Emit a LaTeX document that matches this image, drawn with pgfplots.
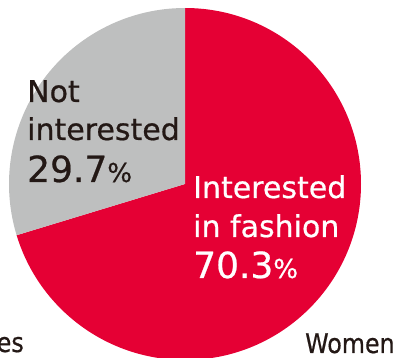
\documentclass[border=0pt]{standalone}
\usepackage{pgfplots}
\usepackage{pgfplotstable}
\pgfplotsset{compat=1.18}
\usepackage{fontspec}
\setmainfont[FakeBold=0.6]{DejaVu Sans}
\definecolor{piered}{HTML}{E50034}
\definecolor{piegray}{HTML}{BEBFBF}
\definecolor{txt}{HTML}{231815}
\pgfplotstableread{
label value
Interested 70.3
Not 29.7
}\piedata
\begin{document}
\begin{tikzpicture}
\useasboundingbox (0,0) rectangle (407bp,358bp);
\clip (0,0) rectangle (407bp,358bp);
\pgfplotstablegetelem{0}{value}\of\piedata \let\vA\pgfplotsretval
\pgfplotstablegetelem{1}{value}\of\piedata \let\vB\pgfplotsretval
\pgfmathsetmacro{\redend}{90-3.6*\vA}
\pgfmathsetmacro{\grayend}{90+3.6*\vB}
\begin{axis}[
  at={(0,0)}, anchor=origin,
  x=1bp, y=1bp,
  xmin=0, xmax=407, ymin=0, ymax=358,
  hide axis, clip=false,
]
\fill[piered] (axis cs:185,174) -- ([shift={(90:176bp)}]axis cs:185,174) arc[start angle=90, end angle=\redend, radius=176bp] -- cycle;
\fill[piegray] (axis cs:185,174) -- ([shift={(90:176bp)}]axis cs:185,174) arc[start angle=90, end angle=\grayend, radius=176bp] -- cycle;
\node[anchor=base west, inner sep=0, text=txt, font=\fontsize{30bp}{36bp}\selectfont] at (axis cs:27,256) {Not};
\node[anchor=base west, inner sep=0, text=txt, font=\fontsize{30bp}{36bp}\selectfont] at (axis cs:27,218) {interested};
\node[anchor=base west, inner sep=0, text=txt] at (axis cs:27,176) {\fontsize{36bp}{40bp}\selectfont \vB\fontsize{26bp}{30bp}\selectfont\%};
\node[anchor=base west, inner sep=0, text=white, font=\fontsize{30bp}{36bp}\selectfont] at (axis cs:193,160) {Interested};
\node[anchor=base west, inner sep=0, text=white, font=\fontsize{30bp}{36bp}\selectfont] at (axis cs:193,121) {in fashion};
\node[anchor=base west, inner sep=0, text=white] at (axis cs:193,80) {\fontsize{36bp}{40bp}\selectfont \vA\fontsize{26bp}{30bp}\selectfont\%};
\node[anchor=base west, inner sep=0, text=txt, font=\fontsize{27bp}{32bp}\selectfont] at (axis cs:305,5) {\scalebox{0.88}[1]{Women}};
\node[anchor=base east, inner sep=0, text=txt, font=\fontsize{27bp}{32bp}\selectfont] at (axis cs:24,6) {\scalebox{0.88}[1]{Males}};
\end{axis}
\end{tikzpicture}
\end{document}
